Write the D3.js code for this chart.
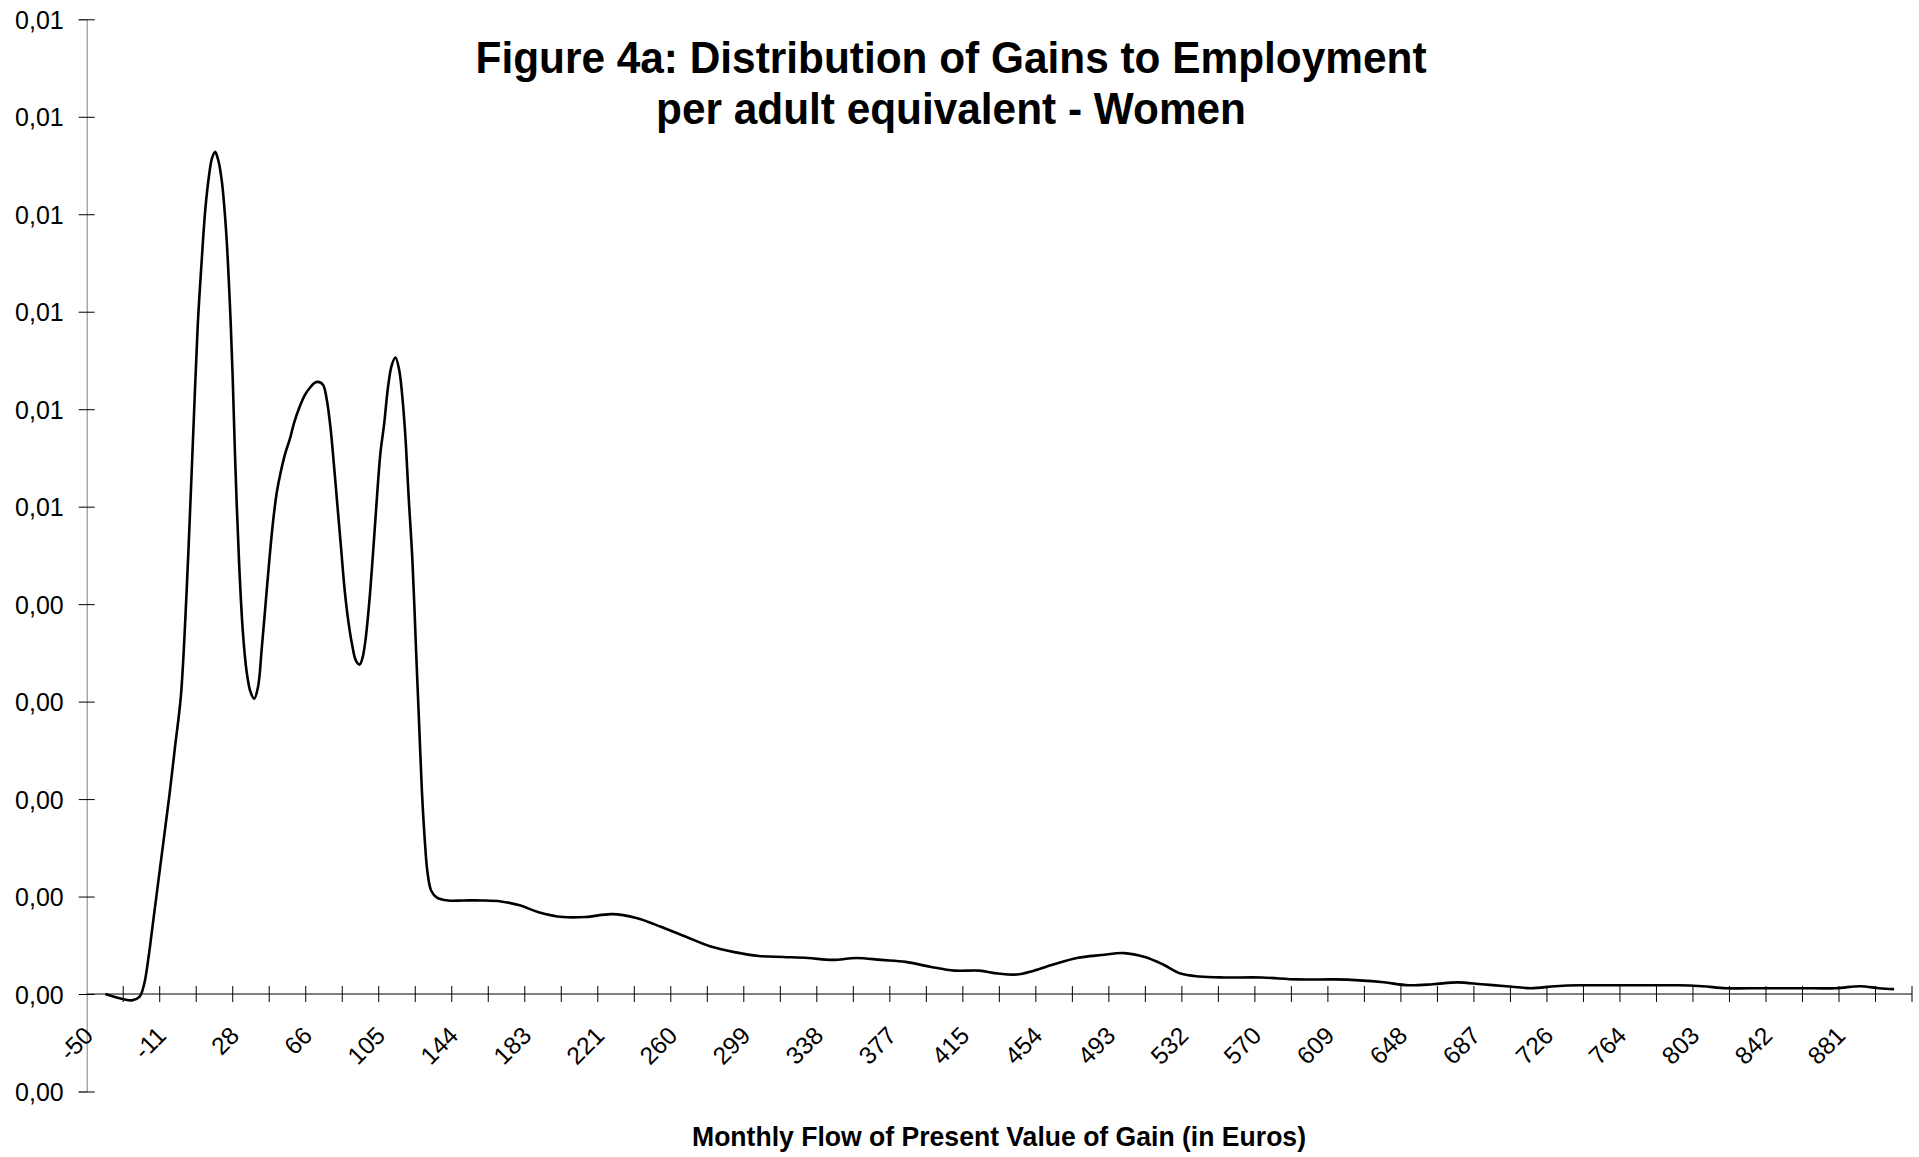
<!DOCTYPE html>
<html>
<head>
<meta charset="utf-8">
<script src="https://cdn.jsdelivr.net/npm/d3@7"></script>
<style>
  html, body { margin: 0; padding: 0; background: #fff; }
  svg { display: block; }
  text { font-family: "Liberation Sans", Arial, sans-serif; fill: #000; }
</style>
</head>
<body>
<svg id="chart" width="1919" height="1157"></svg>
<script>
// ---- data ----
const titleLines = ["Figure 4a: Distribution of Gains to Employment", "per adult equivalent - Women"];
const xAxisTitle = "Monthly Flow of Present Value of Gain (in Euros)";

// category-axis tick labels (every second tick is labelled)
const xTickLabels = ["-50","-11","28","66","105","144","183","221","260","299","338","377","415",
  "454","493","532","570","609","648","687","726","764","803","842","881"];
const xStart = -50;          // value at the y-axis
const xTickStep = 19.39;     // distance between two tick marks (euros)
const xTickCount = 50;       // number of tick intervals on the axis

// y ticks
const yMin = -0.001, yMax = 0.010, yStep = 0.001;

// density curve: monthly gain (euros)
const gain = [
  -40.1, -35, -31, -26, -22, -19.5, -17, -15, -12, -9, -6, -3, 0, 3, 5, 7, 9, 11, 13, 15, 16.5, 18.2,
  19.8, 21.7, 24, 26, 27.5, 29, 31, 33, 35, 37, 39, 41, 43, 45, 47, 49, 51, 53, 55.5, 58, 60, 63, 66,
  69, 71, 73, 75.5, 77.5, 79.6, 81, 83, 85, 87, 89, 91, 93, 95, 96.5, 98, 100, 102, 104, 106, 108,
  110, 112, 114, 116, 118, 119.5, 121, 123, 125, 126.5, 128, 129.5, 131, 133, 136, 142, 150, 160, 170,
  180, 190, 203, 215, 229, 242, 255, 268, 281, 294, 307, 320, 333, 346, 359, 372, 385, 398, 411, 424,
  434, 444, 453, 463, 476, 489, 501, 512, 522, 531, 541, 554, 574, 593, 613, 626, 639, 652, 665, 678,
  691, 704, 717, 730, 743, 756, 769, 782, 795, 808, 821, 840, 860, 879, 892, 902, 910
];
// density (per mille units, i.e. x 0.001)
const densityPermille = [
  0.00, -0.03, -0.05, -0.065, -0.03, 0.10, 0.40, 0.70, 1.15, 1.60, 2.05, 2.55, 3.05, 4.10, 5.00, 5.95,
  6.87, 7.50, 8.05, 8.40, 8.57, 8.64, 8.56, 8.35, 7.84, 7.10, 6.35, 5.40, 4.40, 3.70, 3.30, 3.10, 3.03,
  3.15, 3.55, 4.00, 4.45, 4.85, 5.15, 5.35, 5.55, 5.70, 5.85, 6.02, 6.15, 6.23, 6.27, 6.28, 6.25, 6.10,
  5.79, 5.50, 5.05, 4.60, 4.15, 3.82, 3.58, 3.42, 3.38, 3.45, 3.62, 4.00, 4.50, 5.05, 5.55, 5.85, 6.22,
  6.45, 6.53, 6.40, 6.05, 5.65, 5.10, 4.45, 3.50, 2.80, 2.10, 1.60, 1.25, 1.06, 0.99, 0.96, 0.96, 0.96,
  0.95, 0.91, 0.84, 0.79, 0.79, 0.82, 0.78, 0.69, 0.59, 0.49, 0.43, 0.39, 0.38, 0.37, 0.35, 0.37, 0.35,
  0.33, 0.28, 0.24, 0.24, 0.21, 0.20, 0.24, 0.30, 0.37, 0.40, 0.42, 0.38, 0.30, 0.21, 0.18, 0.17, 0.17,
  0.15, 0.15, 0.14, 0.12, 0.09, 0.10, 0.12, 0.10, 0.08, 0.06, 0.08, 0.09, 0.09, 0.09, 0.09, 0.09, 0.08,
  0.06, 0.06, 0.06, 0.06, 0.08, 0.06, 0.05
];

// ---- drawing ----
const svg = d3.select("#chart");
svg.append("rect").attr("width", 1919).attr("height", 1157).attr("fill", "#fff");

const plot = { left: 86.7, right: 1912, top: 19.3, bottom: 1091.5 };
const xEnd = xStart + xTickStep * xTickCount;

const x = d3.scaleLinear().domain([xStart, xEnd]).range([plot.left, plot.right]);
const y = d3.scaleLinear().domain([yMin, yMax]).range([plot.bottom, plot.top]);

const locale = d3.formatLocale({ decimal: ",", thousands: ".", grouping: [3], currency: ["", "€"] });
const fmt = locale.format(".2f");

// Y axis
const yTicks = d3.range(0, Math.round((yMax - yMin) / yStep) + 1).map(i => yMin + i * yStep);
const yAxis = d3.axisLeft(y).tickValues(yTicks).tickFormat(fmt).tickSize(8).tickPadding(15);
const gy = svg.append("g").attr("transform", `translate(${plot.left},0)`).call(yAxis);
gy.select(".domain").attr("stroke", "#808080").attr("stroke-width", 1);
gy.selectAll(".tick line").attr("x1", -8).attr("x2", 8).attr("stroke", "#000");
gy.selectAll(".tick text")
  .attr("font-family", "Liberation Sans, Arial, sans-serif")
  .attr("font-size", 25).attr("fill", "#000").attr("dy", "0.36em");

// X axis
const y0 = y(0);
const xTicks = d3.range(0, xTickCount + 1).map(i => xStart + i * xTickStep);
const gx = svg.append("g").attr("transform", `translate(0,${y0})`);
gx.append("line").attr("x1", plot.left).attr("x2", plot.right).attr("y1", 0).attr("y2", 0)
  .attr("stroke", "#000").attr("stroke-width", 1);
gx.selectAll("line.tick").data(xTicks.slice(1)).join("line")
  .attr("class", "tick")
  .attr("x1", d => x(d)).attr("x2", d => x(d)).attr("y1", -8).attr("y2", 8)
  .attr("stroke", "#000").attr("stroke-width", 1);
gx.selectAll("text.lbl").data(xTickLabels).join("text")
  .attr("class", "lbl")
  .attr("text-anchor", "end")
  .attr("font-size", 24.5)
  .attr("transform", (d, i) => `translate(${x(xStart + 2 * i * xTickStep) + 8},43) rotate(-45)`)
  .text(d => d);

// line
const pts = gain.map((g, i) => [g, densityPermille[i] / 1000]);
const line = d3.line().x(d => x(d[0])).y(d => y(d[1])).curve(d3.curveCatmullRom.alpha(0.5));
svg.append("path").datum(pts).attr("d", line)
  .attr("fill", "none").attr("stroke", "#000").attr("stroke-width", 2.6).attr("stroke-linejoin", "round");

// titles
const t = svg.append("text").attr("text-anchor", "middle").attr("font-weight", "bold").attr("font-size", 45);
t.append("tspan").attr("x", 951).attr("y", 73).attr("textLength", 951)
  .attr("lengthAdjust", "spacingAndGlyphs").text(titleLines[0]);
t.append("tspan").attr("x", 951).attr("y", 124).attr("textLength", 590)
  .attr("lengthAdjust", "spacingAndGlyphs").text(titleLines[1]);

svg.append("text").attr("x", 999).attr("y", 1146).attr("text-anchor", "middle")
  .attr("font-weight", "bold").attr("font-size", 27.5)
  .attr("textLength", 614).attr("lengthAdjust", "spacingAndGlyphs").text(xAxisTitle);
</script>
</body>
</html>
